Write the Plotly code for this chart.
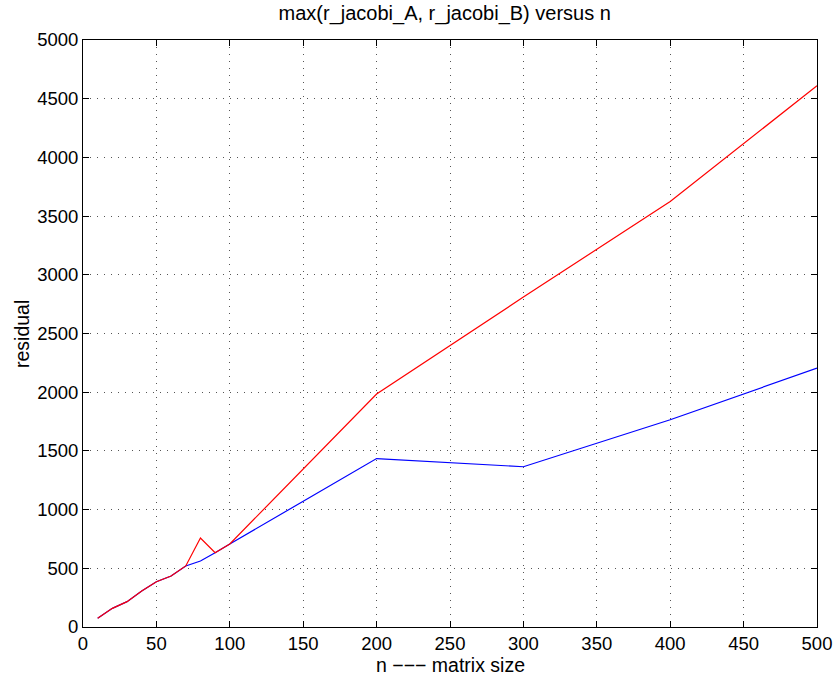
import plotly.graph_objects as go

n = [10, 20, 30, 40, 50, 60, 70, 80, 90, 100, 200, 300, 400, 500]
r_jacobi_A = [74, 159, 216, 307, 386, 434, 520, 758, 633, 707, 1985, 2810, 3625, 4610]
r_jacobi_B = [74, 159, 216, 307, 386, 434, 520, 562, 633, 707, 1435, 1365, 1765, 2205]

xticks = [0, 50, 100, 150, 200, 250, 300, 350, 400, 450, 500]
yticks = [0, 500, 1000, 1500, 2000, 2500, 3000, 3500, 4000, 4500, 5000]

FONT = "Liberation Sans, Arial, Helvetica, sans-serif"

fig = go.Figure()
fig.add_trace(go.Scatter(x=n, y=r_jacobi_B, mode="lines", line=dict(color="#0000ff", width=1.2)))
fig.add_trace(go.Scatter(x=n, y=r_jacobi_A, mode="lines", line=dict(color="#ff0000", width=1.2)))

axis_common = dict(
    showline=True, linecolor="black", linewidth=1, mirror="ticks",
    ticks="inside", ticklen=6, tickcolor="black",
    showgrid=True, gridcolor="#555555", gridwidth=1, griddash="1px,6px",
    zeroline=False, automargin=False,
    tickfont=dict(family=FONT, size=18.5, color="black"),
)

fig.update_layout(
    width=836, height=681,
    margin=dict(l=83, r=19, t=40, b=54),
    paper_bgcolor="white", plot_bgcolor="white",
    showlegend=False,
    title=dict(text="max(r_jacobi_A, r_jacobi_B) versus n", x=0.532, xanchor="center",
               y=0.981, yanchor="middle",
               font=dict(family=FONT, size=20, color="black")),
    xaxis=dict(range=[0, 500], tickvals=xticks, ticktext=[str(v) for v in xticks], **axis_common),
    yaxis=dict(range=[0, 5000], tickvals=yticks, ticktext=[str(v) for v in yticks], **axis_common),
    annotations=[
        dict(text="n −−− matrix size", xref="paper", yref="paper", x=0.5, y=-0.064,
             xanchor="center", yanchor="middle", showarrow=False,
             font=dict(family=FONT, size=19.5, color="black")),
        dict(text="residual", xref="paper", yref="paper", x=-0.0838, y=0.5,
             xanchor="center", yanchor="middle", showarrow=False, textangle=-90,
             font=dict(family=FONT, size=19.5, color="black")),
    ],
)

fig.write_html("out.html", config={"displayModeBar": False},
               post_script="document.body.style.margin='0';")
